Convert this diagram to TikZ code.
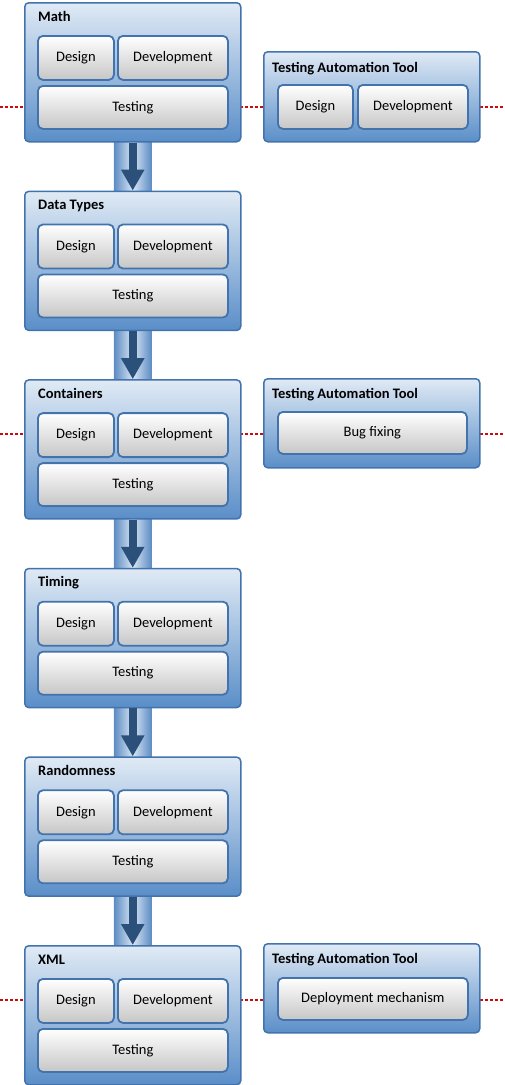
\documentclass[tikz,border=0pt]{standalone}
\usepackage{fontspec}
\setmainfont{Carlito}
\usetikzlibrary{arrows.meta,calc}
\pgfdeclarelayer{bands}
\pgfsetlayers{bands,main}
\definecolor{outtop}{HTML}{E0EAF5}
\definecolor{outbot}{HTML}{5A8EC8}
\definecolor{boxborder}{HTML}{4273AD}
\definecolor{ingrey}{HTML}{C6C6C6}
\definecolor{bandedge}{HTML}{5B8BC3}
\definecolor{bandmid}{HTML}{D8E5F3}
\definecolor{shaftcol}{HTML}{2B5079}
\definecolor{linered}{HTML}{CC0A0A}
\tikzset{
  outerbox/.style={draw=boxborder, line width=1.5pt, rounded corners=4pt,
    top color=outtop, bottom color=outbot, minimum width=216pt,
    anchor=north west, inner sep=0pt},
  innerbox/.style={draw=boxborder, line width=1.8pt, rounded corners=5pt,
    top color=white, bottom color=ingrey, anchor=north west, inner sep=0pt,
    font=\fontsize{14.5}{16}\selectfont, text=black},
  titletext/.style={anchor=base west, inner sep=0pt, text=black,
    font=\bfseries\fontsize{14.5}{16}\selectfont},
  redline/.style={draw=linered, line width=2pt, dash pattern=on 3pt off 2pt},
  flowarrow/.style={draw=shaftcol, line width=8pt,
    -{Triangle[width=22pt,length=21pt]}}
}
\newcommand\stagebox[3]{%
  \node[outerbox, minimum height=139pt] (#1) at (24pt,-#3pt) {};
  \node[titletext] (#1t) at ($(#1.north west)+(14pt,-19pt)$) {#2};
  \node[innerbox, minimum width=76pt, minimum height=44pt] (#1d)
    at ($(#1.north west)+(13pt,-33pt)$) {Design};
  \node[innerbox, minimum width=110pt, minimum height=44pt] (#1v)
    at ($(#1.north west)+(93pt,-33pt)$) {Development};
  \node[innerbox, minimum width=190pt, minimum height=43pt] (#1s)
    at ($(#1.north west)+(13pt,-83pt)$) {Testing};
}
\newcommand\flowlink[2]{%
  \begin{pgfonlayer}{bands}
    \shade[left color=bandedge, right color=bandedge, middle color=bandmid]
      ($(#1.south)+(-19pt,0pt)$) rectangle ($(#2.north)+(19pt,0pt)$);
  \end{pgfonlayer}
  \draw[flowarrow] (#1.south) -- (#2.north);
}
\begin{document}
\begin{tikzpicture}
\useasboundingbox (0,0) rectangle (505pt,-1085pt);
% free ends of the dotted guide lines
\coordinate (rowAw) at (0pt,-106.5pt);
\coordinate (rowAe) at (505pt,-106.5pt);
\coordinate (rowBw) at (0pt,-434.2pt);
\coordinate (rowBe) at (505pt,-434.2pt);
\coordinate (rowCw) at (0pt,-1000pt);
\coordinate (rowCe) at (505pt,-1000pt);
\draw[redline] (rowAw) -- (rowAe);
\draw[redline] (rowBw) -- (rowBe);
\draw[redline] (rowCw) -- (rowCe);

\stagebox{math}{Math}{2}
\stagebox{types}{Data Types}{190.6}
\stagebox{cont}{Containers}{379.2}
\stagebox{timing}{Timing}{567.8}
\stagebox{rand}{Randomness}{756.4}
\stagebox{xml}{XML}{945}

\flowlink{math}{types}
\flowlink{types}{cont}
\flowlink{cont}{timing}
\flowlink{timing}{rand}
\flowlink{rand}{xml}

% Testing automation tool boxes
\node[outerbox, minimum height=90pt] (tat1) at (263pt,-51pt) {};
\node[titletext] (tat1t) at ($(tat1.north west)+(9pt,-21pt)$) {Testing Automation Tool};
\node[innerbox, minimum width=75pt, minimum height=44pt] (tat1d)
  at ($(tat1.north west)+(14pt,-33pt)$) {Design};
\node[innerbox, minimum width=110pt, minimum height=44pt] (tat1v)
  at ($(tat1.north west)+(94pt,-33pt)$) {Development};

\node[outerbox, minimum height=89pt] (tat2) at (263pt,-378pt) {};
\node[titletext] (tat2t) at ($(tat2.north west)+(9pt,-20pt)$) {Testing Automation Tool};
\node[innerbox, minimum width=189pt, minimum height=42pt] (tat2b)
  at ($(tat2.north west)+(14pt,-33pt)$) {Bug fixing};

\node[outerbox, minimum height=89pt] (tat3) at (263pt,-943pt) {};
\node[titletext] (tat3t) at ($(tat3.north west)+(9pt,-20pt)$) {Testing Automation Tool};
\node[innerbox, minimum width=190pt, minimum height=42pt] (tat3b)
  at ($(tat3.north west)+(14pt,-34pt)$) {Deployment mechanism};
\end{tikzpicture}
\end{document}
